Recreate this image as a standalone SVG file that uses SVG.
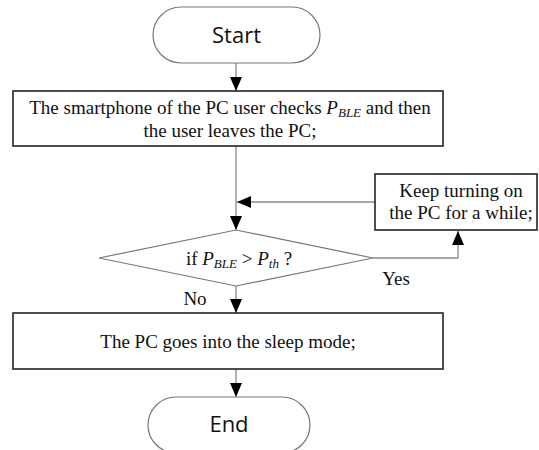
<svg xmlns="http://www.w3.org/2000/svg" width="539" height="450" viewBox="0 0 539 450">
<style>
.term{fill:#fff;stroke:#777;stroke-width:1.2}
.box{fill:#fff;stroke:#222;stroke-width:1.6}
.dia{fill:#fff;stroke:#777;stroke-width:1.2}
.sans{font-family:"Open Sans","Noto Sans",sans-serif;font-size:22px;fill:#111;text-anchor:middle}
.serif{font-family:"Liberation Serif","Times New Roman",serif;font-size:19px;fill:#111}
.mid{text-anchor:middle}
.con{fill:none;stroke:#888;stroke-width:1.3}
</style>
<defs>
<marker id="ah" markerWidth="14" markerHeight="12" refX="14" refY="6" orient="auto" markerUnits="userSpaceOnUse">
<path d="M0,0 L14,6 L0,12 Z" fill="#000"/>
</marker>
</defs>
<g id="connectors">
<line class="con" x1="236" y1="63" x2="236" y2="91" marker-end="url(#ah)"/>
<line class="con" x1="236" y1="146" x2="236" y2="230" marker-end="url(#ah)"/>
<line class="con" x1="375" y1="202" x2="237" y2="202" marker-end="url(#ah)"/>
<polyline class="con" points="373,258 458,258 458,231" marker-end="url(#ah)"/>
<line class="con" x1="236" y1="286" x2="236" y2="313" marker-end="url(#ah)"/>
<line class="con" x1="236" y1="369" x2="236" y2="397" marker-end="url(#ah)"/>
<text class="serif" x="396" y="285" text-anchor="middle">Yes</text>
<text class="serif" x="195" y="305" text-anchor="middle">No</text>
</g>
<g id="start">
<rect class="term" x="153" y="7" width="167" height="56" rx="28" ry="28"/>
<text class="sans" x="236.5" y="43">Start</text>
</g>
<g id="check">
<rect class="box" x="13" y="91" width="430" height="55"/>
<text class="serif mid" x="230" y="114">The smartphone of the PC user checks <tspan font-style="italic">P</tspan><tspan font-style="italic" font-size="13" dy="3">BLE</tspan><tspan dy="-3"> and then</tspan></text>
<text class="serif mid" x="230" y="137">the user leaves the PC;</text>
</g>
<g id="keep">
<rect class="box" x="375" y="174" width="162" height="56"/>
<text class="serif mid" x="461" y="197">Keep turning on</text>
<text class="serif mid" x="461" y="219">the PC for a while;</text>
</g>
<g id="decision">
<polygon class="dia" points="236,230 373,258 236,286 99,258"/>
<text class="serif mid" x="239" y="265">if  <tspan font-style="italic">P</tspan><tspan font-style="italic" font-size="13" dy="3">BLE</tspan><tspan dy="-3"> &gt; </tspan><tspan font-style="italic">P</tspan><tspan font-style="italic" font-size="13" dy="3">th</tspan><tspan dy="-3"> ?</tspan></text>
</g>
<g id="sleep">
<rect class="box" x="13" y="313" width="430" height="56"/>
<text class="serif mid" x="228" y="348">The PC goes into the sleep mode;</text>
</g>
<g id="end">
<rect class="term" x="148" y="397" width="162" height="56" rx="28" ry="28"/>
<text class="sans" x="229" y="432">End</text>
</g>
</svg>
